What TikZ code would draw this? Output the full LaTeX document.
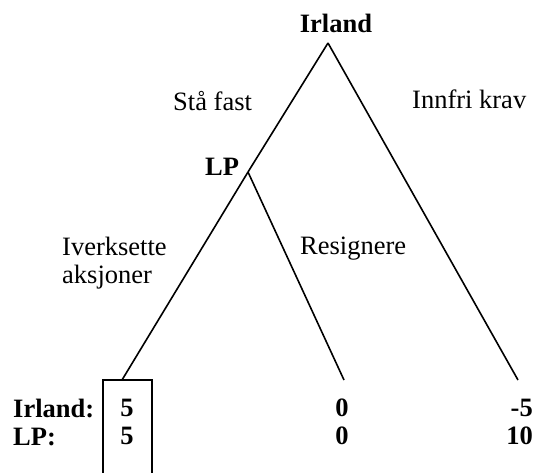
\documentclass[tikz,border=0pt]{standalone}
\usepackage{fontspec}
\setmainfont{Liberation Serif}
\begin{document}
\begin{tikzpicture}[x=1pt,y=-1pt,
  lbl/.style={inner sep=0pt, font=\fontsize{26.5}{28}\selectfont},
  blbl/.style={inner sep=0pt, font=\fontsize{26.5}{28}\selectfont\bfseries},
  branch/.style={line width=1.6pt},
  boxed/.style={draw, line width=1.6pt, inner sep=0pt, minimum width=49pt, minimum height=98pt}]
\useasboundingbox (0,0) rectangle (539,472);
% decision points and leaves
\coordinate (root) at (328,43);
\coordinate (lp) at (248,172);
\coordinate (leafA) at (122,380);
\coordinate (leafB) at (344,380);
\coordinate (leafC) at (518,380);
% player labels
\node[blbl, anchor=base] (irland) at (336,32) {Irland};
\node[blbl, anchor=base west] (lplab) at (205,175) {LP};
% branches
\draw[branch] (root) -- (lp);
\draw[branch] (root) -- (leafC);
\draw[branch] (lp) -- (leafA);
\draw[branch] (lp) -- (leafB);
% branch labels
\node[lbl, anchor=base west] (sta) at (173,110) {Stå fast};
\node[lbl, anchor=base west] (innfri) at (412,108) {Innfri krav};
\node[lbl, anchor=base west] (iverk) at (62,255) {Iverksette};
\node[lbl, anchor=base west] (aksj) at (62,283) {aksjoner};
\node[lbl, anchor=base west] (resig) at (300,254) {Resignere};
% highlighted outcome box
\node[boxed] (box) at (127.5,429) {};
% payoffs
\node[blbl, anchor=base west] (pirl) at (13,417) {Irland:};
\node[blbl, anchor=base west] (plp) at (13,445) {LP:};
\node[blbl, anchor=base] (a1) at (127,416) {5};
\node[blbl, anchor=base] (a2) at (127,444) {5};
\node[blbl, anchor=base] (b1) at (342,416) {0};
\node[blbl, anchor=base] (b2) at (342,444) {0};
\node[blbl, anchor=base east] (c1) at (533,416) {-5};
\node[blbl, anchor=base east] (c2) at (533,444) {10};
\end{tikzpicture}
\end{document}
